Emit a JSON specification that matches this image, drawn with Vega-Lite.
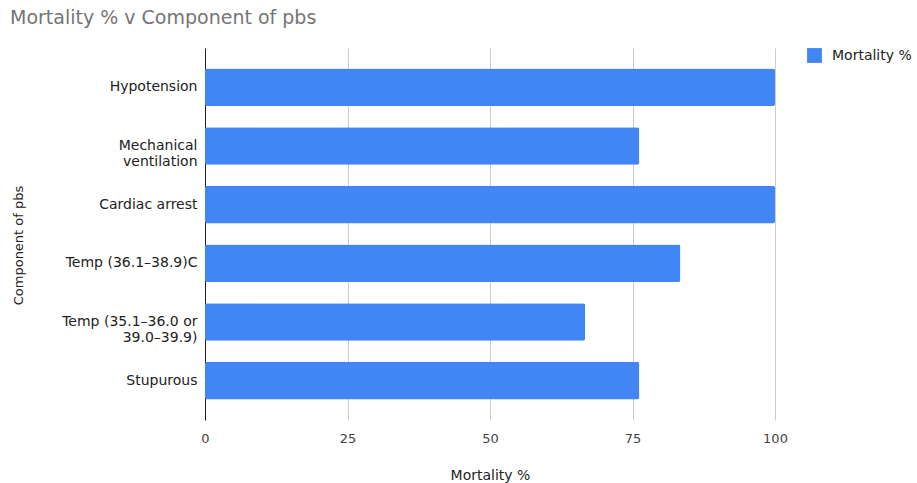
{
  "$schema": "https://vega.github.io/schema/vega-lite/v6.json",
  "autosize": {"type": "none"},
  "width": 570,
  "height": 372,
  "padding": {"left": 205, "top": 48, "right": 142, "bottom": 63},
  "background": "white",
  "title": {
    "text": "Mortality % v Component of pbs",
    "anchor": "start",
    "frame": "group",
    "dx": -195,
    "offset": 20,
    "fontSize": 19,
    "font": "DejaVu Sans",
    "fontWeight": "normal",
    "color": "#757575"
  },
  "data": {
    "values": [
      {"component": "Hypotension", "mortality": 100, "series": "Mortality %"},
      {"component": "Mechanical|ventilation", "mortality": 76.2, "series": "Mortality %"},
      {"component": "Cardiac arrest", "mortality": 100, "series": "Mortality %"},
      {"component": "Temp (36.1–38.9)C", "mortality": 83.4, "series": "Mortality %"},
      {"component": "Temp (35.1–36.0 or |39.0–39.9)", "mortality": 66.7, "series": "Mortality %"},
      {"component": "Stupurous", "mortality": 76.2, "series": "Mortality %"}
    ]
  },
  "mark": {"type": "bar", "cornerRadius": 2},
  "encoding": {
    "y": {
      "field": "component",
      "type": "nominal",
      "sort": null,
      "scale": {"paddingInner": 0.36, "paddingOuter": 0.35},
      "axis": {
        "title": "Component of pbs",
        "titleX": -187,
        "titleY": 197,
        "titleAngle": -90,
        "titleAlign": "center",
        "titleBaseline": "middle",
        "titleFont": "DejaVu Sans",
        "titleFontSize": 13,
        "titleFontWeight": "normal",
        "titleColor": "#222222",
        "labelExpr": "split(datum.label, '|')",
        "labelFont": "DejaVu Sans",
        "labelFontSize": 14,
        "labelColor": "#222222",
        "labelPadding": 8,
        "labelLineHeight": 16,
        "ticks": false,
        "domainColor": "#222222",
        "domainWidth": 1
      }
    },
    "x": {
      "field": "mortality",
      "type": "quantitative",
      "scale": {"domain": [0, 100], "nice": false},
      "axis": {
        "values": [0, 25, 50, 75, 100],
        "title": "Mortality %",
        "titleFont": "DejaVu Sans",
        "titleFontSize": 14,
        "titleFontWeight": "normal",
        "titleColor": "#222222",
        "titlePadding": 23,
        "labelFont": "DejaVu Sans",
        "labelFontSize": 13,
        "labelColor": "#444444",
        "labelPadding": 12,
        "labelFlush": false,
        "ticks": false,
        "domain": false,
        "grid": true,
        "gridColor": "#cccccc",
        "gridWidth": 1
      }
    },
    "color": {
      "field": "series",
      "type": "nominal",
      "scale": {"range": ["#4285F4"]},
      "legend": {
        "title": null,
        "orient": "none",
        "legendX": 602,
        "legendY": 0,
        "symbolType": "square",
        "symbolSize": 220,
        "symbolStrokeWidth": 0,
        "labelFont": "DejaVu Sans",
        "labelFontSize": 14,
        "labelColor": "#222222",
        "labelOffset": 10
      }
    }
  },
  "config": {"view": {"stroke": null}}
}
